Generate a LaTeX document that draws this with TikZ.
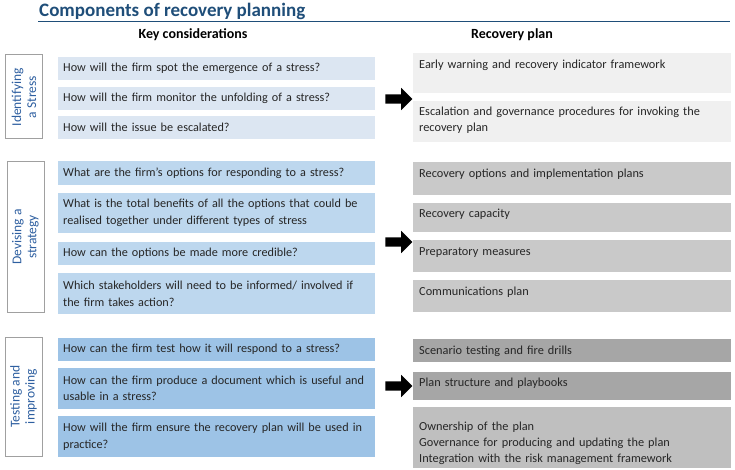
\documentclass[tikz,border=0pt]{standalone}
\usepackage{fontspec}
\setmainfont{Carlito}
\usepackage{xcolor}
\usepackage{tikz}
\usetikzlibrary{shapes.arrows, positioning}

\definecolor{titleblue}{RGB}{31,78,121}
\definecolor{labelblue}{RGB}{46,95,160}
\definecolor{framegray}{RGB}{160,160,160}
\definecolor{qblue1}{RGB}{220,230,242}
\definecolor{qblue2}{RGB}{189,215,238}
\definecolor{qblue3}{RGB}{157,195,230}
\definecolor{plangray1}{RGB}{240,240,240}
\definecolor{plangray2}{RGB}{201,201,201}
\definecolor{plangray3}{RGB}{166,166,166}
\definecolor{plangray4}{RGB}{191,191,191}

\begin{document}
\begin{tikzpicture}[
    x=1pt, y=1pt,
    node distance=7pt,
    question/.style={rectangle, anchor=north west, text width=307pt, inner xsep=5pt, inner ysep=0pt, align=left, minimum height=23pt, text=black!85, font=\fontsize{12.2}{16.5}\selectfont},
    plan/.style={rectangle, anchor=north west, text width=306pt, inner xsep=6pt, inner ysep=4pt, align=left, text height=11pt, text=black!85, font=\fontsize{12.3}{16}\selectfont},
    stage/.style={rectangle, draw=framegray, line width=1pt, rotate=90, align=center, text=labelblue, minimum height=37pt, inner sep=0pt, font=\fontsize{13.5}{15}\selectfont},
    header/.style={font=\bfseries\fontsize{14}{16}\selectfont},
    bigarrow/.style={single arrow, fill=black, inner sep=4.5pt, minimum height=27pt, single arrow head extend=6.5pt}
]
\useasboundingbox (0,0) rectangle (735,-470);

% Title and column heads
\node[anchor=base west, inner sep=0pt, text=titleblue, font=\bfseries\fontsize{19}{22}\selectfont] (title) at (39,-17) {Components of recovery planning};
\coordinate (rulestart) at (38,-21.5);
\coordinate (ruleend) at (730,-21.5);
\draw[titleblue, line width=1.3pt] (rulestart) -- (ruleend);
\node[header] (keyhead) at (193,-35) {Key considerations};
\node[header] (planhead) at (512,-35) {Recovery plan};

% 1. Identifying a stress
\node[stage, minimum width=84pt] (s1) at (24,-97) {Identifying\\a Stress};
\node[question, fill=qblue1] (q11) at (58,-57) {How will the firm spot the emergence of a stress?};
\node[question, fill=qblue1, below=6pt of q11] (q12) {How will the firm monitor the unfolding of a stress?};
\node[question, fill=qblue1, below=6pt of q12] (q13) {How will the issue be escalated?};
\node[bigarrow] (a1) at (396.5,-99) {};
\node[plan, fill=plangray1, text depth=21pt] (r11) at (413,-53) {Early warning and recovery indicator framework};
\node[plan, fill=plangray1, text depth=22pt, below=7pt of r11] (r12) {Escalation and governance procedures for invoking the\\recovery plan};

% 2. Devising a strategy
\node[stage, minimum width=150pt] (s2) at (25.5,-237) {Devising a\\strategy};
\node[question, fill=qblue2, minimum height=24pt] (q21) at (58,-161) {What are the firm’s options for responding to a stress?};
\node[question, fill=qblue2, minimum height=40pt, below=7pt of q21] (q22) {What is the total benefits of all the options that could be\\realised together under different types of stress};
\node[question, fill=qblue2, below=9pt of q22] (q23) {How can the options be made more credible?};
\node[question, fill=qblue2, minimum height=41pt, below=8pt of q23] (q24) {Which stakeholders will need to be informed/ involved if\\the firm takes action?};
\node[bigarrow] (a2) at (396.5,-242) {};
\node[plan, fill=plangray2, text depth=14pt] (r21) at (413,-162) {Recovery options and implementation plans};
\node[plan, fill=plangray2, text depth=10pt, below=7pt of r21] (r22) {Recovery capacity};
\node[plan, fill=plangray2, text depth=13pt, below=8pt of r22] (r23) {Preparatory measures};
\node[plan, fill=plangray2, text depth=13pt, below=8pt of r23] (r24) {Communications plan};

% 3. Testing and improving
\node[stage, minimum width=119pt] (s3) at (23.5,-396.5) {Testing and\\improving};
\node[question, fill=qblue3] (q31) at (58,-338) {How can the firm test how it will respond to a stress?};
\node[question, fill=qblue3, minimum height=41pt, below=6pt of q31] (q32) {How can the firm produce a document which is useful and\\usable in a stress?};
\node[question, fill=qblue3, minimum height=41pt, below=7pt of q32] (q33) {How will the firm ensure the recovery plan will be used in\\practice?};
\node[bigarrow] (a3) at (396.5,-386) {};
\node[plan, fill=plangray3, text depth=4pt] (r31) at (413,-339) {Scenario testing and fire drills};
\node[plan, fill=plangray3, text depth=9pt, below=9pt of r31] (r32) {Plan structure and playbooks};
\node[plan, fill=plangray4, text height=19pt, text depth=34pt, below=7pt of r32] (r33) {Ownership of the plan\\Governance for producing and updating the plan\\Integration with the risk management framework};

\end{tikzpicture}
\end{document}
